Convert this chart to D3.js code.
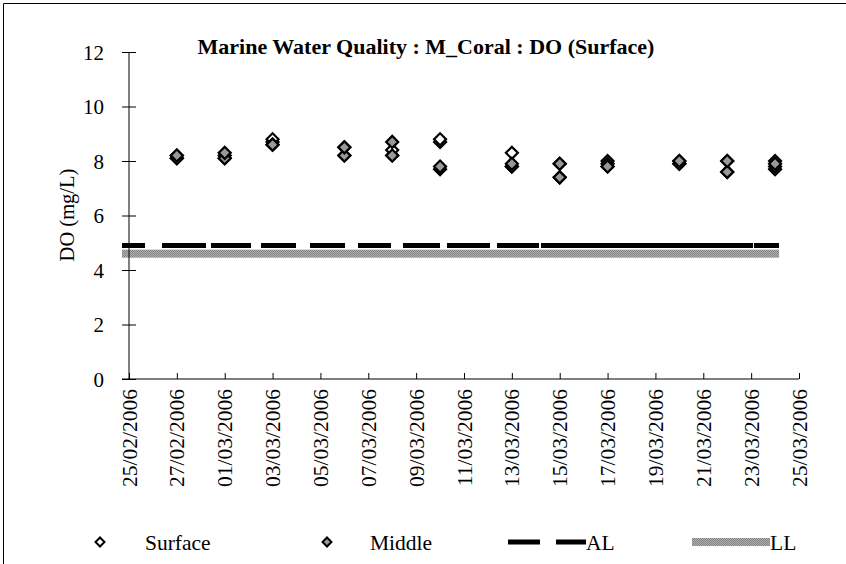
<!DOCTYPE html>
<html><head><meta charset="utf-8">
<script src="https://cdn.jsdelivr.net/npm/d3@7/dist/d3.min.js"></script>
<style>body{margin:0;background:#fff}svg{display:block}</style>
</head><body><svg id="c" width="846" height="564"></svg>
<script>
const title = "Marine Water Quality : M_Coral : DO (Surface)";
const yLabel = "DO (mg/L)";
const xTickLabels = ["25/02/2006","27/02/2006","01/03/2006","03/03/2006","05/03/2006","07/03/2006","09/03/2006","11/03/2006","13/03/2006","15/03/2006","17/03/2006","19/03/2006","21/03/2006","23/03/2006","25/03/2006"];
const yTicks = [0,2,4,6,8,10,12];
const sampleDates = ["27/02/2006","01/03/2006","03/03/2006","06/03/2006","08/03/2006","10/03/2006","13/03/2006","15/03/2006","17/03/2006","20/03/2006","22/03/2006","24/03/2006"];
const surfaceA = [8.2, 8.1, 8.8, 8.2, 8.4, 8.8, 8.3, 7.9, 8.0, 8.0, 8.0, 8.0];
const surfaceB = [8.1, 8.2, 8.7, 8.5, 8.2, 8.7, 7.8, 7.4, 7.8, 7.9, 7.6, 7.7];
const middleA  = [8.2, 8.3, 8.6, 8.5, 8.7, 7.8, 7.9, 7.9, 7.8, 8.0, 8.0, 7.9];
const middleB  = [8.1, 8.1, 8.6, 8.2, 8.2, 7.7, 7.8, 7.4, 7.9, 7.9, 7.6, 7.8];
const limitDates = ["25/02/2006","24/03/2006"];
const AL = [4.9, 4.9];
const LL = [4.6, 4.6];
const legendNames = ["Surface","Middle","AL","LL"];

const FONT = "'Liberation Serif','Times New Roman',Times,serif";
const parse = d3.timeParse("%d/%m/%Y");
const svg = d3.select("#c");
const x = d3.scaleTime().domain([parse("25/02/2006"), parse("25/03/2006")]).range([129, 799]);
const y = d3.scaleLinear().domain([0,12]).range([379, 52]);

// checkered grey pattern for LL
const defs = svg.append("defs");
const pat = defs.append("pattern").attr("id","chk").attr("width",2).attr("height",2).attr("patternUnits","userSpaceOnUse");
pat.append("rect").attr("width",2).attr("height",2).attr("fill","#b0b0b0");
pat.append("rect").attr("width",1).attr("height",1).attr("fill","#858585");
pat.append("rect").attr("x",1).attr("y",1).attr("width",1).attr("height",1).attr("fill","#858585");

// frame
svg.append("line").attr("x1",3.5).attr("x2",846).attr("y1",3.5).attr("y2",3.5).attr("stroke","#000").attr("stroke-width",1);
svg.append("line").attr("x1",3.5).attr("x2",3.5).attr("y1",3.5).attr("y2",564).attr("stroke","#000").attr("stroke-width",1);

// title
svg.append("text").attr("x",426).attr("y",54).attr("text-anchor","middle")
  .style("font-family",FONT).style("font-size","22px").style("font-weight","bold").text(title);

// limit lines
const lx0 = x(parse(limitDates[0])) - 7, lx1 = x(parse(limitDates[1])) + 4;
svg.append("rect").attr("x",lx0).attr("width",lx1-lx0).attr("y",y(LL[0])-4).attr("height",8).attr("fill","url(#chk)");
svg.append("line").attr("x1",lx0).attr("x2",lx1).attr("y1",y(AL[0])).attr("y2",y(AL[1]))
  .attr("stroke","#000").attr("stroke-width",5)
  .attr("stroke-dasharray","23,17,44,5,40,10,35,14,35,13,33,12,37,7,43,7,42,2,212,1,25");

// y axis
const ya = svg.append("g").attr("transform","translate(129,0)")
  .call(d3.axisLeft(y).tickValues(yTicks).tickSize(0).tickPadding(25).tickFormat(d3.format("d")));
ya.attr("font-family",null).attr("font-size",null);
ya.select(".domain").attr("stroke","#000").attr("d","M0,"+y(12)+"V"+y(0));
ya.selectAll(".tick line").remove();
ya.selectAll(".tick").append("line").attr("x1",-7).attr("x2",7).attr("stroke","#000");
ya.selectAll("text").style("font-family",FONT).style("font-size","21px").attr("dy","0.35em");

// x axis
const xa = svg.append("g").attr("transform","translate(0,379)")
  .call(d3.axisBottom(x).tickValues(xTickLabels.map(parse)).tickSizeInner(-6).tickSizeOuter(0).tickFormat(d3.timeFormat("%d/%m/%Y")));
xa.attr("font-family",null).attr("font-size",null);
xa.select(".domain").attr("stroke","#000").attr("d","M122,0H799");
xa.selectAll(".tick line").attr("stroke","#000");
xa.selectAll("text").style("font-family",FONT).style("font-size","21.5px")
  .attr("transform","rotate(-90)").attr("text-anchor","end").attr("x",-10).attr("y",0).attr("dy","0.33em").attr("dx",0);

// y label
svg.append("text").attr("transform","translate(74,215) rotate(-90)").attr("text-anchor","middle")
  .style("font-family",FONT).style("font-size","20.5px").text(yLabel);

// points
const diamond = d3.symbol(d3.symbolSquare).size(72);
function drawSeries(vals, fill){
  svg.append("g").selectAll("path").data(sampleDates.map((d,i)=>({d:parse(d),v:vals[i]}))).join("path")
    .attr("d",diamond).attr("transform",p=>`translate(${x(p.d)},${y(p.v)}) rotate(45)`)
    .attr("fill",fill).attr("stroke","#000").attr("stroke-width",2.2);
}
drawSeries(surfaceB,"#fff");
drawSeries(surfaceA,"#fff");
drawSeries(middleB,"#999");
drawSeries(middleA,"#999");

// legend
const ly = 542;
const lg = svg.append("g");
const ldia = d3.symbol(d3.symbolSquare).size(40);
function ltext(xp, t){ lg.append("text").attr("x",xp).attr("y",ly).attr("dy","0.35em").style("font-family",FONT).style("font-size","21.5px").text(t); }
lg.append("path").attr("d",ldia).attr("transform",`translate(100,${ly}) rotate(45)`).attr("fill","#fff").attr("stroke","#000").attr("stroke-width",2);
ltext(145, legendNames[0]);
lg.append("path").attr("d",ldia).attr("transform",`translate(327,${ly}) rotate(45)`).attr("fill","#999").attr("stroke","#000").attr("stroke-width",2);
ltext(370, legendNames[1]);
lg.append("line").attr("x1",508).attr("x2",586).attr("y1",ly).attr("y2",ly).attr("stroke","#000").attr("stroke-width",5).attr("stroke-dasharray","32,16,30");
ltext(586, legendNames[2]);
lg.append("rect").attr("x",692).attr("width",78).attr("y",ly-4).attr("height",8).attr("fill","url(#chk)");
ltext(770, legendNames[3]);
</script></body></html>
